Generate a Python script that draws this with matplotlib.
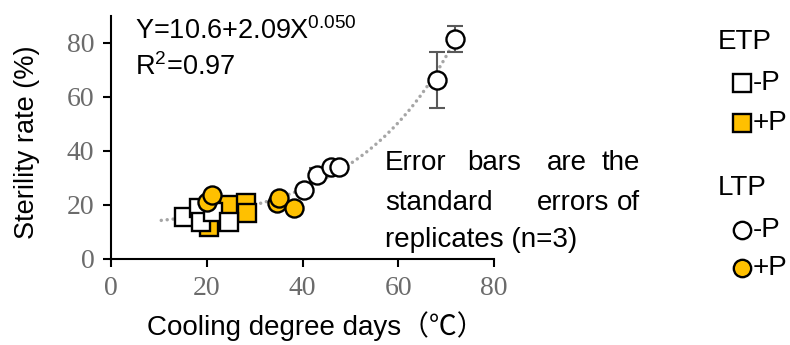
import matplotlib
matplotlib.use("Agg")
import matplotlib.pyplot as plt
from matplotlib.lines import Line2D
import numpy as np

# ETP (squares)
etp_minus_x = [15.2, 18.3, 18.7, 21.4, 24.6]
etp_minus_y = [15.7, 18.8, 13.8, 17.5, 13.8]
etp_plus_x = [20.4, 24.6, 28.1, 28.4]
etp_plus_y = [12.0, 20.0, 20.6, 16.9]
# LTP (circles)
ltp_minus_x = [40.3, 43.1, 45.9, 47.7, 68.1, 71.9]
ltp_minus_y = [25.6, 31.1, 34.2, 34.0, 66.3, 81.5]
ltp_minus_se = [1.0, 2.5, 1.5, 0.8, 10.4, 4.7]
ltp_plus_x = [20.0, 21.1, 34.7, 35.1, 38.2]
ltp_plus_y = [21.2, 23.7, 20.6, 22.5, 19.0]
# fitted trend  y = a + b*exp(c*x)
fit_a, fit_b, fit_c = 10.6, 2.24, 0.048
fit_range = (10.5, 72.0)

x_ticks = [0, 20, 40, 60, 80]
y_ticks = [0, 20, 40, 60, 80]

gold = '#FFC000'
grey = '#595959'
sans = ['Liberation Sans', 'Noto Sans CJK JP', 'DejaVu Sans']
plt.rcParams['mathtext.fontset'] = 'custom'
plt.rcParams['mathtext.rm'] = 'Liberation Sans'

W, H = 790, 345
fig = plt.figure(figsize=(W / 100, H / 100), dpi=100)


def fx(px):
    return px / W


def fy(py):
    return 1 - py / H


ax = fig.add_axes([fx(111), fy(259), fx(494) - fx(111), fy(16) - fy(259)])

xs = np.linspace(fit_range[0], fit_range[1], 200)
ax.plot(xs, fit_a + fit_b * np.exp(fit_c * xs), color='#A6A6A6', lw=2.5,
        linestyle=(0, (0.01, 1.7)), dash_capstyle='round', zorder=1)

ms = 13
ax.plot(etp_plus_x, etp_plus_y, 's', ms=ms, mfc=gold, mec='black', mew=1.7, zorder=2)
ax.plot(etp_minus_x, etp_minus_y, 's', ms=ms, mfc='white', mec='black', mew=1.7, zorder=3)
ax.plot(ltp_plus_x, ltp_plus_y, 'o', ms=ms, mfc=gold, mec='black', mew=1.7, zorder=4)
ax.errorbar(ltp_minus_x, ltp_minus_y, yerr=ltp_minus_se, fmt='none', ecolor=grey,
            elinewidth=1.5, capsize=6, capthick=1.5, zorder=4)
ax.plot(ltp_minus_x, ltp_minus_y, 'o', ms=ms, mfc='white', mec='black', mew=1.7, zorder=5)

ax.set_xlim(0, 80)
ax.set_ylim(0, 90)
ax.set_xticks(x_ticks)
ax.set_yticks(y_ticks)
for s in ['top', 'right']:
    ax.spines[s].set_visible(False)
for s in ['left', 'bottom']:
    ax.spines[s].set_linewidth(1.5)
ax.tick_params(direction='out', length=6, width=1.5, colors='black',
               labelcolor='#6b6b6b', labelsize=20, pad=6)
for lab in ax.get_xticklabels() + ax.get_yticklabels():
    lab.set_fontfamily('Liberation Serif')

ax.set_xlabel('Cooling degree days（℃）', family=sans, fontsize=20)
ax.xaxis.set_label_coords((316 - 111) / 383, (259 - 326) / 243)
ax.set_ylabel('Sterility rate (%)', family=sans, fontsize=19.5)
ax.yaxis.set_label_coords((27 - 111) / 383, (259 - 142) / 243)
ax.yaxis.label.set_va('center')
ax.xaxis.label.set_va('center')

fig.text(fx(135), fy(17), r'Y=10.6+2.09X$\mathregular{^{0.050}}$', family=sans,
         fontsize=19.5, va='top', ha='left')
fig.text(fx(135), fy(53), r'R$\mathregular{^2}$=0.97', family=sans, fontsize=19.5,
         va='top', ha='left')

# justified note
note_lines = [
    (163, [('Error', 385, 'left'), ('bars', 467, 'left'), ('are', 547, 'left'), ('the', 640, 'right')]),
    (203, [('standard', 385, 'left'), ('errors', 537, 'left'), ('of', 640, 'right')]),
    (240, [('replicates (n=3)', 385, 'left')]),
]
for py, words in note_lines:
    for w, px, ha in words:
        fig.text(fx(px), fy(py), w, family=sans, fontsize=20, va='center', ha=ha)

# legend drawn by hand
fig.text(fx(718), fy(42), 'ETP', family=sans, fontsize=20, va='center', ha='left')
fig.text(fx(718), fy(188), 'LTP', family=sans, fontsize=20, va='center', ha='left')
legend_rows = [
    (83, 's', 'white', '-P'),
    (123, 's', gold, '+P'),
    (230, 'o', 'white', '-P'),
    (268, 'o', gold, '+P'),
]
for py, mk, fc, lab in legend_rows:
    fig.add_artist(Line2D([fx(742)], [fy(py)], marker=mk, ms=12.5, mfc=fc, mec='black',
                          mew=1.7, linestyle='none', transform=fig.transFigure))
    fig.text(fx(753), fy(py), lab, family=sans, fontsize=20, va='center', ha='left')

fig.savefig('out.png', dpi=100)
